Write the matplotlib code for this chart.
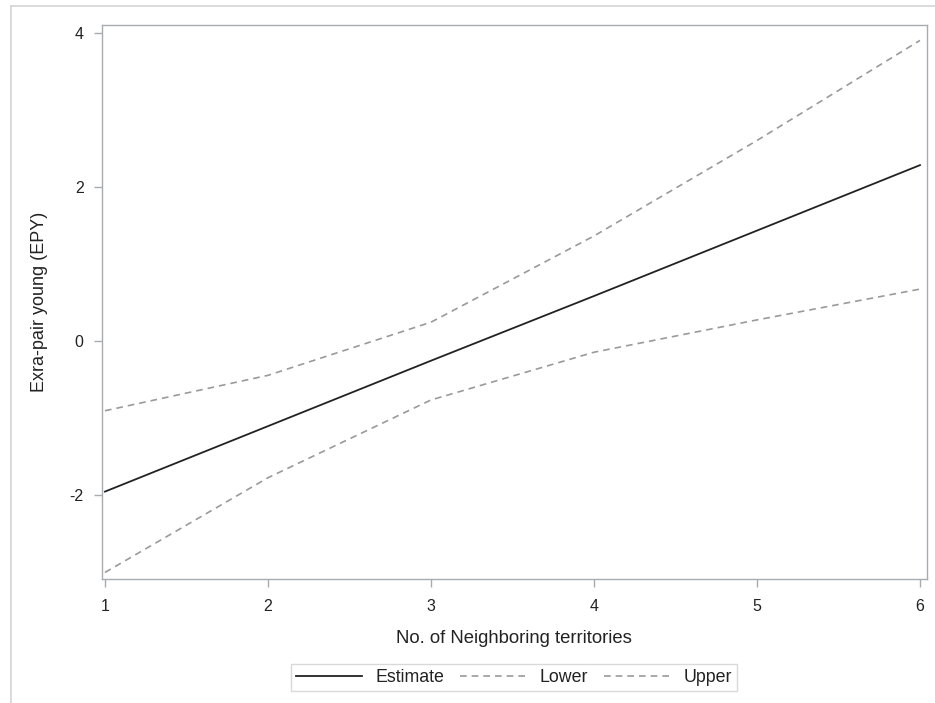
import numpy as np
import matplotlib.pyplot as plt
from matplotlib.lines import Line2D

plt.rcParams['font.family'] = ['Liberation Sans', 'DejaVu Sans']
plt.rcParams['axes.unicode_minus'] = False

# values
territories = [1, 2, 3, 4, 5, 6]
estimate = [-1.96, -1.11, -0.26, 0.58, 1.43, 2.28]
lower = [-3.01, -1.78, -0.77, -0.15, 0.27, 0.67]
upper = [-0.91, -0.45, 0.24, 1.36, 2.60, 3.90]

xticks = [1, 2, 3, 4, 5, 6]
yticks = [-2, 0, 2, 4]

W, H = 935, 703
fig = plt.figure(figsize=(W / 100, H / 100), dpi=100)
ax = fig.add_axes([101.7 / W, 1 - 579 / H, (927 - 101.7) / W, (579 - 25) / H])

axis_grey = '#a8acb0'
dash_grey = '#9a9a9a'
text_col = '#222222'

ax.plot(territories, estimate, color=text_col, lw=1.3, label='Estimate')
ax.plot(territories, lower, color=dash_grey, lw=1.2, ls=(0, (4, 3)), label='Lower')
ax.plot(territories, upper, color=dash_grey, lw=1.2, ls=(0, (4, 3)), label='Upper')

ax.set_xlim(0.98, 6.043)
ax.set_ylim(-3.095, 4.10)
ax.set_xticks(xticks)
ax.set_yticks(yticks)

for s in ax.spines.values():
    s.set_color(axis_grey)
    s.set_linewidth(1.0)
ax.tick_params(colors=axis_grey, labelcolor=text_col, length=6, width=1.0,
               labelsize=11.5)
ax.tick_params(axis='x', pad=8.5)
ax.tick_params(axis='y', pad=7)

ax.set_xlabel('No. of Neighboring territories', fontsize=13.3, color=text_col, labelpad=11.5)
ax.set_ylabel('Exra-pair young (EPY)', fontsize=13, color=text_col)
ax.yaxis.set_label_coords(-0.065, 0.5)

leg = fig.legend(loc='center', bbox_to_anchor=(514 / W, 1 - 677.5 / H),
                 ncol=3, fontsize=12.8, frameon=True, fancybox=False,
                 handlelength=3.7, handletextpad=0.8, columnspacing=0.85,
                 borderpad=0.3, borderaxespad=0)
leg.get_frame().set_edgecolor('#d0d0d0')
leg.get_frame().set_linewidth(1.0)
for t in leg.get_texts():
    t.set_color(text_col)

# outer frame of the graph area
fig.add_artist(Line2D([11 / W, 11 / W], [0, 1 - 6 / H], color='#d4d4d4', lw=1.2,
                      transform=fig.transFigure))
fig.add_artist(Line2D([11 / W, 1], [1 - 6 / H, 1 - 6 / H], color='#d4d4d4', lw=1.2,
                      transform=fig.transFigure))

fig.savefig('out.png', dpi=100)
